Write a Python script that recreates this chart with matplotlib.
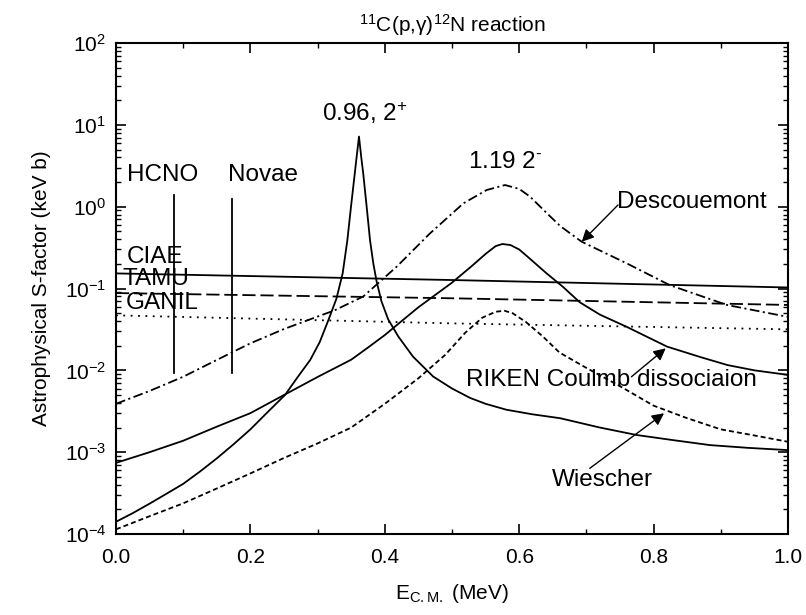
import numpy as np
import matplotlib
matplotlib.use("Agg")
import matplotlib.pyplot as plt
from matplotlib.ticker import MultipleLocator, LogLocator, FixedLocator, NullFormatter

plt.rcParams['font.family'] = ['Liberation Sans', 'DejaVu Sans']
plt.rcParams['mathtext.fontset'] = 'custom'
plt.rcParams['mathtext.rm'] = 'Liberation Sans'
plt.rcParams['mathtext.it'] = 'Liberation Sans:italic'
plt.rcParams['mathtext.bf'] = 'Liberation Sans:bold'
plt.rcParams['mathtext.sf'] = 'Liberation Sans'
plt.rcParams['mathtext.default'] = 'regular'
plt.rcParams['lines.scale_dashes'] = False

# narrow 0.96 MeV 2+ resonance (solid)
res1_E = [0.0, 0.025, 0.05, 0.075, 0.1, 0.125, 0.15, 0.175, 0.2, 0.225, 0.2515, 0.27, 0.289,
          0.303, 0.316, 0.328, 0.3373, 0.3443, 0.3497, 0.3547, 0.358, 0.3616, 0.365, 0.368,
          0.373, 0.378, 0.383, 0.388, 0.395, 0.405, 0.42, 0.442, 0.472, 0.5, 0.527, 0.55,
          0.581, 0.62, 0.661, 0.72, 0.775, 0.83, 0.884, 0.94, 1.0]
res1_S = [1.41e-4, 1.8e-4, 2.35e-4, 3.1e-4, 4.1e-4, 5.8e-4, 8.4e-4, 1.25e-3, 1.9e-3, 3.05e-3, 5.0e-3, 8.2e-3, 1.34e-2,
          2.2e-2, 4.1e-2, 7.5e-2, 0.153, 0.39, 1.0, 2.3, 4.0, 7.2, 4.0, 2.5,
          1.0, 0.39, 0.2, 0.12, 0.07, 0.042, 0.026, 0.0147, 0.0084, 0.006, 0.0046, 0.0039,
          0.0033, 0.0029, 0.0026, 0.002, 0.00162, 0.0014, 0.00122, 0.00113, 0.00106]

# RIKEN Coulomb dissociation (solid, broad peak)
riken_E = [0.0, 0.05, 0.1, 0.15, 0.2, 0.25, 0.3, 0.35, 0.375, 0.4, 0.425, 0.45, 0.5, 0.53, 0.55,
           0.565, 0.575, 0.587, 0.6, 0.615, 0.64, 0.665, 0.69, 0.72, 0.76, 0.82, 0.87, 0.91, 0.95, 1.0]
riken_S = [7.4e-4, 1.0e-3, 1.38e-3, 2.05e-3, 3.0e-3, 5.0e-3, 8.3e-3, 0.0135, 0.019, 0.027, 0.04, 0.059, 0.118, 0.19, 0.265,
           0.33, 0.35, 0.34, 0.3, 0.235, 0.155, 0.105, 0.068, 0.048, 0.034, 0.0195, 0.0145, 0.0116, 0.01, 0.0088]

# Wiescher (short dashes)
wies_E = [0.0, 0.05, 0.1, 0.15, 0.2, 0.25, 0.3, 0.35, 0.4, 0.45, 0.49, 0.52, 0.545, 0.565,
          0.578, 0.59, 0.61, 0.635, 0.66, 0.7, 0.75, 0.8, 0.85, 0.9, 0.95, 1.0]
wies_S = [1.14e-4, 1.65e-4, 2.37e-4, 3.6e-4, 5.5e-4, 8.5e-4, 1.28e-3, 2.0e-3, 3.9e-3, 8.0e-3, 0.0155, 0.029, 0.044, 0.052,
          0.0535, 0.05, 0.039, 0.026, 0.0165, 0.0107, 0.0064, 0.0037, 0.0026, 0.0019, 0.0016, 0.00134]

# Descouemont (dash-dot)
desc_E = [0.0, 0.05, 0.1, 0.15, 0.2, 0.25, 0.2986, 0.325, 0.368, 0.4177, 0.467, 0.517, 0.5516,
          0.5789, 0.6, 0.616, 0.64, 0.661, 0.693, 0.76, 0.824, 0.909, 1.0]
desc_S = [3.9e-3, 5.6e-3, 8.35e-3, 0.0134, 0.0214, 0.032, 0.045, 0.054, 0.08, 0.185, 0.47, 1.1, 1.6,
          1.84, 1.65, 1.33, 0.85, 0.58, 0.373, 0.203, 0.11, 0.063, 0.045]

# measured flat S-factors
flat_E = [0.0, 0.5, 1.0]
ciae_S = [0.153, 0.127, 0.103]
tamu_S = [0.088, 0.076, 0.063]
ganil_S = [0.047, 0.0375, 0.0317]

# Gamow window markers
hcno_E = [0.087, 0.087]
hcno_S = [0.0092, 1.39]
novae_E = [0.172, 0.172]
novae_S = [0.0093, 1.23]

y_major = [1e-4, 1e-3, 1e-2, 1e-1, 1e0, 1e1, 1e2]

fig = plt.figure(figsize=(8.06, 6.15), dpi=100)
ax = fig.add_axes([0.1439, 0.1317, 0.8338, 0.7983])

lw = 1.3
ax.plot(res1_E, res1_S, color='k', lw=lw)
ax.plot(riken_E, riken_S, color='k', lw=lw)
ax.plot(wies_E, wies_S, color='k', lw=lw, dashes=(3.6, 2.2))
ax.plot(desc_E, desc_S, color='k', lw=lw, dashes=(7, 2.5, 1.5, 2.5))
ax.plot(flat_E, ciae_S, color='k', lw=lw)
ax.plot(flat_E, tamu_S, color='k', lw=lw, dashes=(9.5, 3.5))
ax.plot(flat_E, ganil_S, color='k', lw=lw, dashes=(1.3, 4))
ax.plot(hcno_E, hcno_S, color='k', lw=lw)
ax.plot(novae_E, novae_S, color='k', lw=lw)

ax.set_yscale('log')
ax.set_xlim(0, 1.0)
ax.set_ylim(1e-4, 1e2)
ax.xaxis.set_major_locator(MultipleLocator(0.2))
ax.xaxis.set_minor_locator(MultipleLocator(0.1))
ax.yaxis.set_major_locator(FixedLocator(y_major))
ax.yaxis.set_minor_locator(LogLocator(base=10, subs=np.arange(2, 10), numticks=10))
ax.yaxis.set_minor_formatter(NullFormatter())
ax.xaxis.set_major_formatter(plt.FuncFormatter(lambda v, p: f"{v:.1f}"))
ax.yaxis.set_major_formatter(plt.FuncFormatter(lambda v, p: "10$^{%d}$" % round(np.log10(v))))

ax.tick_params(which='both', direction='in', top=True, right=True, labelsize=15)
ax.tick_params(which='major', length=7, width=1.2)
ax.tick_params(which='minor', length=3.5, width=1.0)
ax.tick_params(axis='x', which='major', pad=10)
ax.tick_params(axis='y', which='major', pad=7)
for s in ax.spines.values():
    s.set_linewidth(1.5)

ax.set_xlabel("E$_{C.M.}$ (MeV)", fontsize=15, labelpad=11)
ax.set_ylabel("Astrophysical S-factor (keV b)", fontsize=15, labelpad=10)
ax.set_title("$^{11}$C(p,$\\gamma$)$^{12}$N reaction", fontsize=15, pad=8)

fs = 17.5
ax.text(0.0164, 2.44, "HCNO", fontsize=fs, va='center', ha='left')
ax.text(0.1667, 2.44, "Novae", fontsize=fs, va='center', ha='left')
ax.text(0.0164, 0.245, "CIAE", fontsize=fs, va='center', ha='left')
ax.text(0.0104, 0.13, "TAMU", fontsize=fs, va='center', ha='left')
ax.text(0.0149, 0.067, "GANIL", fontsize=fs, va='center', ha='left')
ax.text(0.3705, 14.0, "0.96, 2$^{+}$", fontsize=fs, va='center', ha='center')
ax.text(0.579, 3.54, "1.19 2$^{\u2010}$", fontsize=fs, va='center', ha='center')

arrow = dict(arrowstyle='-|>', color='k', lw=1.0, mutation_scale=18, shrinkA=0, shrinkB=0)
ax.annotate("", xy=(0.693, 0.373), xytext=(0.747, 1.05), arrowprops=arrow)
ax.text(0.7455, 1.15, "Descouemont", fontsize=fs, va='center', ha='left')
ax.annotate("", xy=(0.818, 0.0186), xytext=(0.767, 8.35e-3), arrowprops=arrow)
ax.text(0.521, 7.6e-3, "RIKEN Coulmb dissociaion", fontsize=fs, va='center', ha='left')
ax.annotate("", xy=(0.8155, 2.99e-3), xytext=(0.705, 6.35e-4), arrowprops=arrow)
ax.text(0.649, 4.57e-4, "Wiescher", fontsize=fs, va='center', ha='left')

fig.savefig("out.png", dpi=100)
